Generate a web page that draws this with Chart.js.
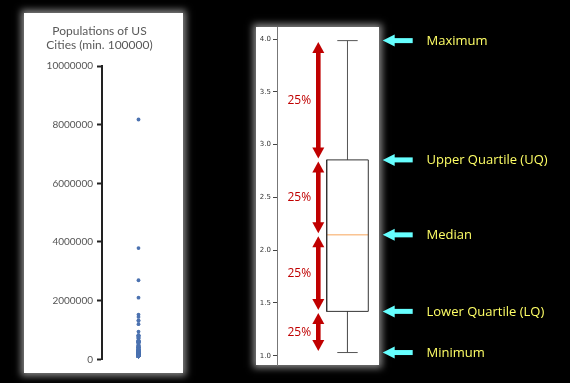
<!DOCTYPE html>
<html>
<head>
<meta charset="utf-8">
<script src="https://cdn.jsdelivr.net/npm/chart.js@4.4.1/dist/chart.umd.min.js"></script>
<style>
  html, body { margin:0; padding:0; background:#000; width:570px; height:383px; overflow:hidden; }
  .panel { position:absolute; background:#fff; box-shadow: 0 0 7px 3px rgba(150,150,150,0.9); }
  #leftPanel { left:24px; top:13px; width:159px; height:360px; }
  #rightPanel { left:256px; top:27px; width:123px; height:338px; }
  #leftWrap { position:absolute; left:24px; top:13px; width:159px; height:360px; }
  #rightWrap { position:absolute; left:240px; top:0px; width:330px; height:383px; }
</style>
</head>
<body>
<div class="panel" id="leftPanel"></div>
<div class="panel" id="rightPanel"></div>
<div id="leftWrap"><canvas id="left" width="159" height="360"></canvas></div>
<div id="rightWrap"><canvas id="right" width="330" height="383"></canvas></div>
<script>
// ---------- DATA ----------
const leftTitle = ['Populations of US', 'Cities (min. 100000)'];
const leftTickValues = [0, 2000000, 4000000, 6000000, 8000000, 10000000];
const cityPopulations = [8175133,3792621,2695598,2099451,1526006,1445632,1327407,1307402,1197816,945942,821784,820445,805235,790390,787033,741206,731424,713777,649121,646889,620961,617594,608660,601723,601222,600158,597337,594833,583776,583756,579999,545852,520116,494665,466488,462257,459787,439041,437994,420003,416427,408958,403892,399457,396815,391906,390724,382578,382368,365438,347483,343829,337256,336265,335709,325078,324528,319294,305704,305215,303871,296943,295803,291826,291707,287208,285068,277140,269666,261310,259841,258379,257729,253691,247597,244769,243916,242803,238300,236123,236091,233209,229617,229573,229493,228330,226876,226721,225221,224669,222209,217385,216961,216290,214089,212375,212237,210565,209924,208916,208453,207627,205764,205671,204214,203433,201165,200564,199311,199110,198397,197899,197899,196069,195976,195844,195111,193524,193365,191719,190695,189992,189885,188040,186440,181376,181045,180719,180105,178874,178042,176320,175396,175023,173514,173372,170883,167815,167674,167086,165521,165269,164603,163924,161791,161719,159498,156633,156185,154750,154637,154305,154065,153888,153060,153015,152871,152750,152374,150441,149058,149043,147433,146199,145786,145438,145170,144229,144186,143986,143911,142980,141853,141527,140768,140081,139966,139824,137436,137122,136416,136286,135234,135161,134056,132929,131117,129877,129779,129699,129480,129272,127921,127473,126683,126326,125872,124969,124805,124775,124442,124354,124237,122643,122363,122067,122041,121096,120623,120083,119097,118788,118772,118296,118032,117517,117429,117063,116989,116830,116468,116250,115942,115903,115452,115007,114297,113934,113475,113383,112580,112488,111772,111147,110925,110366,109960,109673,109565,108755,108500,108188,107685,107167,106769,106595,106519,106476,106433,106433,106114,106098,105594,105549,105549,105328,105321,105162,104553,104371,104170,104057,103712,103701,103466,103340,103190,103019,102434,102372,101786,101168,101123,100377,100097];

const boxTickValues = [1.0, 1.5, 2.0, 2.5, 3.0, 3.5, 4.0];
const statLabels = ['Maximum', 'Upper Quartile (UQ)', 'Median', 'Lower Quartile (LQ)', 'Minimum'];
const statValues = [3.985, 2.855, 2.145, 1.42, 1.03];   // max, q3, median, q1, min
const shareLabels = ['25%', '25%', '25%', '25%'];

// ---------- LAYOUT / STYLE (not data) ----------
const BOX = { center: 0.691, half: 0.204, capHalf: 0.10 };
const RED = '#c00000', CYAN = '#66ffff', YELLOW = '#ffff66';

Chart.defaults.animation = false;
Chart.defaults.devicePixelRatio = 1;
Chart.defaults.plugins.legend.display = false;
Chart.defaults.plugins.tooltip.enabled = false;

// ---------- LEFT: strip plot ----------
new Chart(document.getElementById('left'), {
  type: 'scatter',
  data: { datasets: [{
    data: cityPopulations.map(v => ({ x: 1, y: v })),
    backgroundColor: '#4c72b0', borderWidth: 0, pointRadius: 1.9
  }]},
  options: {
    responsive: false,
    layout: { padding: { left: 0, right: 8, top: 0, bottom: 13.7 } },
    plugins: {
      title: { display: true, text: leftTitle, color: '#595959',
        font: { family: 'Lato', size: 12, weight: 'normal', lineHeight: 1.2 },
        padding: { top: 10.5, bottom: 13.7 } }
    },
    scales: {
      x: { type: 'linear', min: 0, max: 2, display: false },
      y: {
        min: 0, max: 10000000,
        afterFit: s => { s.width = 78; },
        afterBuildTicks: s => { s.ticks = leftTickValues.map(v => ({ value: v })); },
        ticks: { color: '#555', padding: 4, font: { family: 'Lato', size: 10 },
                 callback: v => v.toFixed(0) },
        grid: { drawOnChartArea: false, drawTicks: true, tickLength: 5, tickWidth: 2, tickColor: '#222' },
        border: { display: true, color: '#222', width: 2 }
      }
    }
  }
});

// ---------- RIGHT: box plot ----------
const [vMax, vQ3, vMed, vQ1, vMin] = statValues;
const bx0 = BOX.center - BOX.half, bx1 = BOX.center + BOX.half;
const c0 = BOX.center - BOX.capHalf, c1 = BOX.center + BOX.capHalf;
const seg = (pts, color) => ({ data: pts.map(p => ({ x: p[0], y: p[1] })), showLine: true,
  borderColor: color, borderWidth: 1, pointRadius: 0, fill: false, tension: 0 });

const annotate = {
  id: 'annotate',
  afterDatasetsDraw(chart) {
    const ctx = chart.ctx, y = chart.scales.y, area = chart.chartArea;
    const px = statValues.map(v => y.getPixelForValue(v));
    // red double arrows + 25% labels
    const ax = 78.3, sw = 4.6, hw = 6, hl = 11;
    ctx.save();
    ctx.fillStyle = RED;
    for (let i = 0; i < px.length - 1; i++) {
      const top = px[i] + 1.5, bot = px[i + 1] - 1.5;
      ctx.fillRect(ax - sw / 2, top + hl - 1, sw, (bot - top) - 2 * hl + 2);
      ctx.beginPath(); ctx.moveTo(ax, top); ctx.lineTo(ax - hw, top + hl); ctx.lineTo(ax + hw, top + hl); ctx.closePath(); ctx.fill();
      ctx.beginPath(); ctx.moveTo(ax, bot); ctx.lineTo(ax - hw, bot - hl); ctx.lineTo(ax + hw, bot - hl); ctx.closePath(); ctx.fill();
      ctx.font = '12px "Open Sans"';
      ctx.textAlign = 'center'; ctx.textBaseline = 'middle';
      ctx.fillText(shareLabels[i], 59.3, (px[i] + px[i + 1]) / 2 + 0.5);
    }
    // cyan arrows + yellow labels
    const tip = area.right + 3.7, tail = tip + 30, chl = 12, chw = 6, csw = 5;
    for (let i = 0; i < px.length; i++) {
      const yy = px[i];
      ctx.fillStyle = CYAN;
      ctx.fillRect(tip + chl - 1, yy - csw / 2, tail - tip - chl + 1, csw);
      ctx.beginPath(); ctx.moveTo(tip, yy); ctx.lineTo(tip + chl, yy - chw); ctx.lineTo(tip + chl, yy + chw); ctx.closePath(); ctx.fill();
      ctx.fillStyle = YELLOW;
      ctx.font = '13px "Open Sans"';
      ctx.textAlign = 'left'; ctx.textBaseline = 'middle';
      ctx.fillText(statLabels[i], 186.5, yy + 0.5);
    }
    ctx.restore();
  }
};

new Chart(document.getElementById('right'), {
  type: 'scatter',
  data: { datasets: [
    seg([[bx0, vQ1], [bx1, vQ1], [bx1, vQ3], [bx0, vQ3], [bx0, vQ1]], '#333'),
    seg([[bx0, vMed], [bx1, vMed]], '#f7a55a'),
    seg([[BOX.center, vQ3], [BOX.center, vMax]], '#555'),
    seg([[BOX.center, vQ1], [BOX.center, vMin]], '#555'),
    seg([[c0, vMax], [c1, vMax]], '#555'),
    seg([[c0, vMin], [c1, vMin]], '#555')
  ]},
  options: {
    responsive: false,
    layout: { padding: { left: 0, right: 191, top: 27, bottom: 18 } },
    scales: {
      x: { type: 'linear', min: 0, max: 1, display: false },
      y: {
        min: 0.912, max: 4.114,
        afterFit: s => { s.width = 37; },
        afterBuildTicks: s => { s.ticks = boxTickValues.map(v => ({ value: v })); },
        ticks: { color: '#333', padding: 2, font: { family: 'DejaVu Sans', size: 7 },
                 callback: v => v.toFixed(1) },
        grid: { drawOnChartArea: false, drawTicks: true, tickLength: 4, tickWidth: 1, tickColor: '#444' },
        border: { display: true, color: '#777', width: 1 }
      }
    }
  },
  plugins: [annotate]
});
</script>
</body>
</html>
